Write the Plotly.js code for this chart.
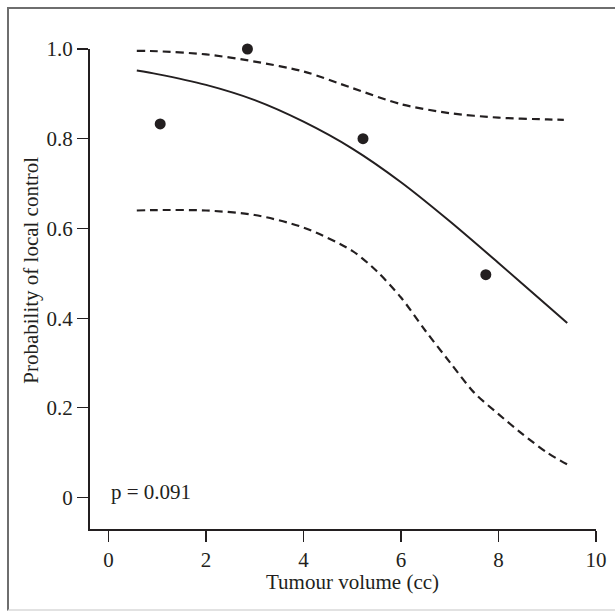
<!DOCTYPE html>
<html><head><meta charset="utf-8">
<script src="https://cdn.plot.ly/plotly-3.0.1.min.js"></script>
<style>
html,body{margin:0;padding:0;background:#fff;}
#wrap{position:relative;width:615px;height:614px;}
#chart{width:615px;height:614px;}
#frame{position:absolute;left:7px;top:7px;width:620px;height:604px;border-left:2px solid #6e6e6e;border-top:2px solid #6e6e6e;border-bottom:2px solid #e2e2e2;pointer-events:none;box-sizing:border-box;}
</style></head>
<body><div id="wrap"><div id="chart"></div><div id="frame"></div></div>
<script>
// Observed data points
const obsX = [1.06, 2.85, 5.22, 7.74];
const obsY = [0.833, 1.0, 0.80, 0.497];
// Fitted curve
const fitX = [0.58, 1, 2, 3, 4, 5, 6, 7, 8, 9, 9.41];
const fitY = [0.952, 0.944, 0.920, 0.886, 0.838, 0.778, 0.703, 0.616, 0.523, 0.428, 0.389];
// Upper confidence band
const upX = [0.58, 1, 2, 3, 4, 5, 6, 7, 8, 9, 9.34];
const upY = [0.996, 0.995, 0.988, 0.972, 0.950, 0.913, 0.877, 0.857, 0.847, 0.843, 0.842];
// Lower confidence band
const loX = [0.58, 1, 2, 3, 4, 5, 5.5, 6, 6.5, 7, 7.5, 8, 8.5, 9, 9.41];
const loY = [0.640, 0.641, 0.640, 0.630, 0.602, 0.550, 0.505, 0.446, 0.372, 0.302, 0.234, 0.186, 0.141, 0.100, 0.074];
// Ticks
const xTicks = [0, 2, 4, 6, 8, 10];
const xTickText = ['0', '2', '4', '6', '8', '10'];
const yTicks = [0, 0.2, 0.4, 0.6, 0.8, 1.0];
const yTickText = ['0', '0.2', '0.4', '0.6', '0.8', '1.0'];

const ink = '#231f20';
const font = 'Liberation Serif, Times New Roman, serif';
const fs = 21;

const traces = [
  {x: upX, y: upY, mode: 'lines', line: {color: ink, width: 2.2, dash: '8px,5px', shape: 'spline', smoothing: 0.8}, cliponaxis: false, hoverinfo: 'skip'},
  {x: loX, y: loY, mode: 'lines', line: {color: ink, width: 2.2, dash: '8px,5px', shape: 'spline', smoothing: 0.8}, cliponaxis: false, hoverinfo: 'skip'},
  {x: fitX, y: fitY, mode: 'lines', line: {color: ink, width: 2, shape: 'spline', smoothing: 0.8}, cliponaxis: false},
  {x: obsX, y: obsY, mode: 'markers', marker: {color: ink, size: 11}, cliponaxis: false}
];

const layout = {
  width: 615, height: 614,
  margin: {l: 90, r: 19, t: 49, b: 85},
  paper_bgcolor: '#fff', plot_bgcolor: '#fff',
  showlegend: false,
  font: {family: font, size: fs, color: ink},
  xaxis: {
    range: [-0.38, 10], tickvals: xTicks, ticktext: xTickText,
    showline: true, linecolor: ink, linewidth: 2, showgrid: false, zeroline: false,
    ticks: 'outside', ticklen: 11, tickwidth: 1.2, tickcolor: ink,
    tickfont: {family: font, size: fs, color: ink}
  },
  yaxis: {
    range: [-0.07, 1.0], tickvals: yTicks, ticktext: yTickText,
    showline: true, linecolor: ink, linewidth: 2, showgrid: false, zeroline: false,
    ticks: 'outside', ticklen: 11, tickwidth: 1.2, tickcolor: ink,
    tickfont: {family: font, size: fs, color: ink}
  },
  annotations: [
    {text: 'Tumour volume (cc)', xref: 'x', yref: 'paper', x: 5, y: 0, yshift: -53, showarrow: false, xanchor: 'center', yanchor: 'middle', font: {family: font, size: fs, color: ink}},
    {text: 'Probability of local control', xref: 'paper', yref: 'paper', x: 0, y: 0.538, xshift: -59, textangle: -90, showarrow: false, xanchor: 'center', yanchor: 'middle', font: {family: font, size: fs, color: ink}},
    {text: 'p = 0.091', xref: 'x', yref: 'y', x: 0, y: 0.012, showarrow: false, xanchor: 'left', yanchor: 'middle', font: {family: font, size: fs, color: ink}}
  ]
};

Plotly.newPlot('chart', traces, layout, {staticPlot: true, displayModeBar: false});
</script>
</body></html>
